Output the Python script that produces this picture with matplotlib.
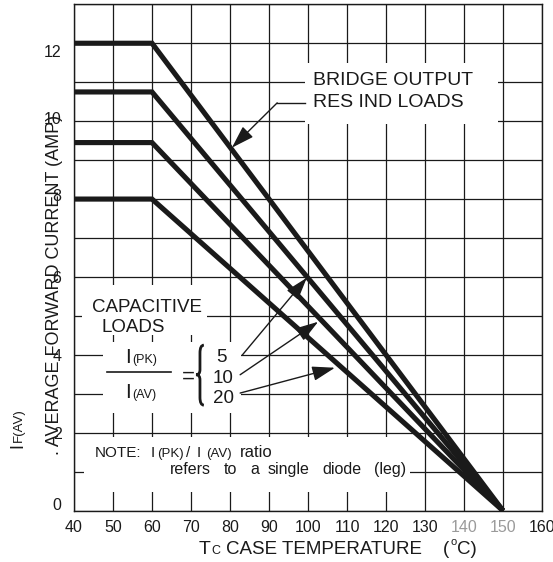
import numpy as np
import matplotlib.pyplot as plt
from matplotlib.patches import Rectangle, PathPatch
from matplotlib.path import Path

plt.rcParams['font.family'] = ['Liberation Sans', 'DejaVu Sans']

# derating curves (case temp in C, average forward current in A)
tc = [40, 60, 150]
if_bridge = [12.0, 12.0, 0.0]    # bridge output, res/ind loads
if_cap5 = [10.75, 10.75, 0.0]    # capacitive, Ipk/Iav = 5
if_cap10 = [9.45, 9.45, 0.0]     # capacitive, Ipk/Iav = 10
if_cap20 = [8.0, 8.0, 0.0]       # capacitive, Ipk/Iav = 20

x_ticks = list(range(40, 161, 10))
x_tick_labels = [str(v) for v in x_ticks]
y_grid = list(range(0, 14))
# the printed y labels sit a bit off the grid in the original sheet
y_label_pos = [0.18, 2, 4, 6, 8.1, 10.09, 11.79]
y_labels = ['0', '2', '4', '6', '8', '10', '12']

ink = '#1a1a1a'


def rich_text(ax, xy, parts, coords='data', rotation=0):
    # pieces of text laid side by side, each (text, size, rise_px, gap_px)
    renderer = ax.figure.canvas.get_renderer()
    off = 0.0
    for s, size, rise, gap in parts:
        if rotation == 0:
            dxy = (off, rise)
        else:
            dxy = (-rise, off)
        t = ax.annotate(s, xy=xy, xycoords=coords, xytext=dxy, textcoords='offset pixels',
                        fontsize=size, ha='left', va='baseline', rotation=rotation,
                        rotation_mode='anchor', color=ink, zorder=6, annotation_clip=False)
        bb = t.get_window_extent(renderer)
        off += (bb.width if rotation == 0 else bb.height) + gap


fig = plt.figure(figsize=(5.53, 5.62), dpi=100)
ax = fig.add_axes([74 / 553, 1 - 510.7 / 562, 468 / 553, 506.4 / 562])

ax.set_xlim(40, 160)
ax.set_ylim(0, 13)

# grid
ax.set_xticks(x_ticks)
ax.set_xticklabels(x_tick_labels, fontsize=11.5)
for lbl in ax.get_xticklabels():
    if lbl.get_text() in ('140', '150'):
        lbl.set_color('#9a9a9a')
    else:
        lbl.set_color(ink)
ax.yaxis.remove_overlapping_locs = False
ax.set_yticks(y_grid)
ax.set_yticklabels([''] * len(y_grid))
ax.set_yticks(y_label_pos, minor=True)
ax.set_yticklabels(y_labels, minor=True, fontsize=11.5, color=ink)
ax.tick_params(axis='both', which='both', length=0)
ax.tick_params(axis='x', pad=7)
ax.tick_params(axis='y', which='minor', pad=9)
ax.set_axisbelow(True)
ax.grid(True, which='major', color=ink, lw=0.9)
for sp in ax.spines.values():
    sp.set_color(ink)
    sp.set_linewidth(1.0)

# white label boxes knock out the grid
for (x0, y0, x1, y1) in [(99.2, 9.93, 148.7, 11.5),
                         (42.0, 4.52, 74.2, 5.8),
                         (47.4, 2.5, 82.7, 4.32),
                         (42.6, 0.48, 126.2, 1.9)]:
    ax.add_patch(Rectangle((x0, y0), x1 - x0, y1 - y0, facecolor='white',
                           edgecolor='none', zorder=1))

# curves
for curve in [if_bridge, if_cap5, if_cap10, if_cap20]:
    ax.plot(tc, curve, color=ink, lw=3.7, solid_joinstyle='miter',
            solid_capstyle='butt', zorder=3)

arrow = dict(arrowstyle='-|>,head_length=1.4,head_width=0.45', color=ink, lw=1.0,
             shrinkA=0, shrinkB=0, mutation_scale=10)

# bridge output label + bent leader
ax.text(101.3, 10.92, 'BRIDGE OUTPUT', fontsize=14, color=ink, va='baseline', zorder=6)
ax.text(101.3, 10.36, 'RES IND LOADS', fontsize=14, color=ink, va='baseline', zorder=6)
ax.plot([99.2, 92.1], [10.47, 10.47], color=ink, lw=1.0, zorder=4)
ax.annotate('', xy=(80.5, 9.32), xytext=(92.1, 10.47), arrowprops=arrow, zorder=4)

# capacitive loads block
ax.text(44.5, 5.11, 'CAPACITIVE', fontsize=13.5, color=ink, va='baseline', zorder=6)
ax.text(47.1, 4.6, 'LOADS', fontsize=13.5, color=ink, va='baseline', zorder=6)
rich_text(ax, (53.1, 3.79), [('I', 15, 0, 1), ('(PK)', 9, 0, 0)])
rich_text(ax, (53.1, 2.89), [('I', 15, 0, 1), ('(AV)', 9, 0, 0)])
ax.plot([48.4, 64.8], [3.55, 3.55], color=ink, lw=1.2, zorder=6)
ax.text(69.2, 3.44, '=', fontsize=16, color=ink, ha='center', va='center', zorder=6)

# brace
bx, tx = 72.3, 71.3
yt, ym, yb = 4.25, 3.49, 2.71
verts = [(73.3, yt), (bx, yt), (bx, yt - 0.2), (bx, ym + 0.13),
         (bx, ym), (tx, ym), (bx, ym), (bx, ym - 0.13), (bx, yb + 0.2),
         (bx, yb), (73.3, yb)]
codes = [Path.MOVETO, Path.CURVE3, Path.CURVE3, Path.LINETO,
         Path.CURVE3, Path.CURVE3, Path.CURVE3, Path.CURVE3, Path.LINETO,
         Path.CURVE3, Path.CURVE3]
ax.add_patch(PathPatch(Path(verts, codes), fill=False, lw=2.0, color=ink, zorder=6))

ax.text(76.5, 3.83, '5', fontsize=13.5, color=ink, va='baseline', zorder=6)
ax.text(75.6, 3.27, '10', fontsize=13.5, color=ink, va='baseline', zorder=6)
ax.text(75.6, 2.76, '20', fontsize=13.5, color=ink, va='baseline', zorder=6)
ax.annotate('', xy=(99.7, 5.98), xytext=(83.1, 3.99), arrowprops=arrow, zorder=4)
ax.annotate('', xy=(102.6, 4.85), xytext=(82.6, 3.49), arrowprops=arrow, zorder=4)
ax.annotate('', xy=(106.9, 3.67), xytext=(82.6, 3.02), arrowprops=arrow, zorder=4)

# note
rich_text(ax, (45.2, 1.39), [('NOTE:', 11, 0, 10), ('I', 11, 0, 2), ('(PK)', 9.5, 0, 2),
                             ('/', 11, 0, 7), ('I', 11, 0, 5), ('(AV)', 9.5, 0, 8),
                             ('ratio', 12, 0, 0)])
rich_text(ax, (64.6, 0.94), [('refers', 11.5, 0, 13), ('to', 11.5, 0, 13), ('a', 11.5, 0, 8),
                             ('single', 11.5, 0, 13), ('diode', 11.5, 0, 13),
                             ('(leg)', 11.5, 0, 0)])

# axis titles
fig.text(54.5 / 553, 1 - 285 / 562, '. AVERAGE FORWARD CURRENT (AMP)', rotation=90,
         fontsize=13, color=ink, ha='center', va='center')
rich_text(ax, (22, 114), [('I', 13, 0, 1), ('F(AV)', 9.5, 0, 0)], coords='figure pixels',
          rotation=90)
rich_text(ax, (199, 8), [('T', 14, 0, 1), ('C', 9, 0, 5), ('CASE TEMPERATURE', 13.5, 0, 21),
                         ('(', 13.5, 0, 1), ('o', 8, 9, 1), ('C)', 13.5, 0, 0)],
          coords='figure pixels')

fig.savefig('out.png', dpi=100)
